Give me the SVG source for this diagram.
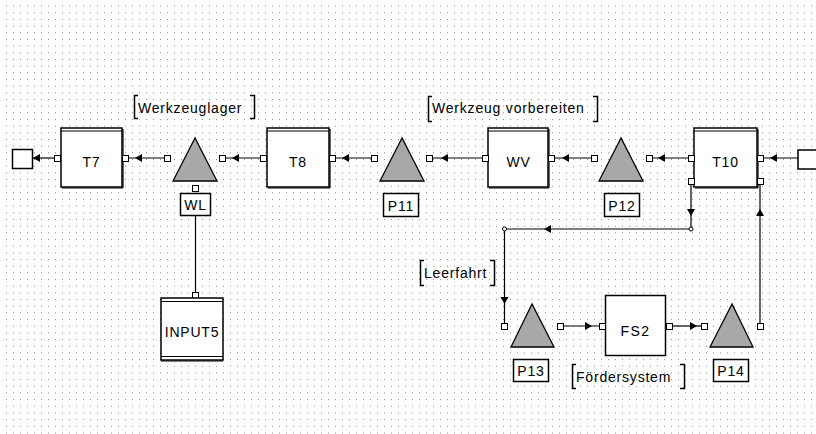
<svg xmlns="http://www.w3.org/2000/svg" xmlns:xlink="http://www.w3.org/1999/xlink" width="816" height="434" viewBox="0 0 816 434">
<style>
.box{fill:#fff;stroke:#000;stroke-width:1.5}
.band{stroke:#000;stroke-width:1.2}
.port{fill:#fff;stroke:#000;stroke-width:1}
.tri{fill:#a8a8a8;stroke:#000;stroke-width:1.3;stroke-linejoin:miter}
.lbl{fill:#fff;stroke:#000;stroke-width:1.5}
.line{fill:none;stroke:#000;stroke-width:1.2}
.br{fill:none;stroke:#000;stroke-width:1.5}
.t{font-family:"Liberation Sans",Arial,sans-serif;font-size:14px;fill:#000;letter-spacing:0.8px}
.c{text-anchor:middle}
.bend{fill:#fff;stroke:#000;stroke-width:1}
</style>
<defs>
<pattern id="grid" patternUnits="userSpaceOnUse" x="6" y="5.6" width="7" height="6.67">
<rect x="0" y="0" width="1" height="1" fill="#8c8c8c"/>
</pattern>
<path id="ah" d="M0,0 L-7,-4 L-7,4 Z" fill="#000"/>
</defs>
<rect x="0" y="0" width="816" height="434" fill="#fff"/>
<rect x="0" y="0" width="816" height="434" fill="url(#grid)"/>

<g id="connectors">
<line class="line" x1="54" y1="158" x2="32" y2="158"/>
<use xlink:href="#ah" transform="translate(33,158) rotate(180)"/>
<line class="line" x1="164" y1="158" x2="128" y2="158"/>
<use xlink:href="#ah" transform="translate(135,158) rotate(180)"/>
<line class="line" x1="260" y1="158" x2="225" y2="158"/>
<use xlink:href="#ah" transform="translate(232,158) rotate(180)"/>
<line class="line" x1="371" y1="158" x2="335" y2="158"/>
<use xlink:href="#ah" transform="translate(342,158) rotate(180)"/>
<line class="line" x1="482" y1="158" x2="432" y2="158"/>
<use xlink:href="#ah" transform="translate(441,158) rotate(180)"/>
<line class="line" x1="591" y1="158" x2="554" y2="158"/>
<use xlink:href="#ah" transform="translate(562,158) rotate(180)"/>
<line class="line" x1="688" y1="158" x2="652" y2="158"/>
<use xlink:href="#ah" transform="translate(658,158) rotate(180)"/>
<line class="line" x1="798" y1="158" x2="763" y2="158"/>
<use xlink:href="#ah" transform="translate(770,158) rotate(180)"/>
<polyline class="line" points="691,184 691,229 504.5,229 504.5,323"/>
<use xlink:href="#ah" transform="translate(691,216) rotate(90)"/>
<use xlink:href="#ah" transform="translate(544,229) rotate(180)"/>
<use xlink:href="#ah" transform="translate(504.5,304) rotate(90)"/>
<circle class="bend" cx="691" cy="229" r="2"/>
<circle class="bend" cx="504.5" cy="229" r="2"/>
<line class="line" x1="563" y1="326" x2="599" y2="326"/>
<use xlink:href="#ah" transform="translate(592,326)"/>
<line class="line" x1="672" y1="326" x2="701" y2="326"/>
<use xlink:href="#ah" transform="translate(697,326)"/>
<line class="line" x1="760" y1="323" x2="760" y2="184"/>
<use xlink:href="#ah" transform="translate(760,209) rotate(-90)"/>
<line class="line" x1="195.5" y1="216" x2="195.5" y2="292"/>
</g>

<g id="src_left">
<rect class="box" x="12.5" y="149.5" width="20" height="19"/>
</g>

<g id="T7">
<rect class="box" x="61" y="128" width="61" height="59"/>
<line class="band" x1="61" y1="131" x2="122" y2="131"/>
<line class="band" x1="62" y1="188" x2="123" y2="188"/>
<line class="band" x1="123" y1="129" x2="123" y2="188"/>
<rect class="port" x="54.5" y="155.5" width="6" height="6"/>
<rect class="port" x="122.5" y="155.5" width="6" height="6"/>
<text class="t c" x="91.5" y="167">T7</text>
</g>

<g id="WL">
<polygon class="tri" points="195,138 173,181 217,181"/>
<rect class="port" x="164.5" y="155.5" width="6" height="6"/>
<rect class="port" x="219.5" y="155.5" width="6" height="6"/>
<rect class="port" x="192.5" y="185.5" width="6" height="6"/>
<rect class="lbl" x="180.5" y="193.5" width="30" height="22"/>
<text class="t c" x="195.5" y="210">WL</text>
</g>

<g id="INPUT5">
<rect class="port" x="192.5" y="292.5" width="6" height="6"/>
<rect class="box" x="161" y="298" width="62" height="62"/>
<line class="band" x1="161" y1="301.5" x2="223" y2="301.5"/>
<line class="band" x1="161" y1="356.5" x2="223" y2="356.5"/>
<line class="band" x1="161" y1="361" x2="223" y2="361"/>
<text class="t c" x="192" y="337">INPUT5</text>
</g>

<g id="T8">
<rect class="box" x="267" y="128" width="62" height="59"/>
<line class="band" x1="267" y1="131" x2="329" y2="131"/>
<line class="band" x1="268" y1="188" x2="330" y2="188"/>
<line class="band" x1="330" y1="129" x2="330" y2="188"/>
<rect class="port" x="260.5" y="155.5" width="6" height="6"/>
<rect class="port" x="329.5" y="155.5" width="6" height="6"/>
<text class="t c" x="298" y="167">T8</text>
</g>

<g id="P11">
<polygon class="tri" points="402,138 380,181 424,181"/>
<rect class="port" x="371.5" y="155.5" width="6" height="6"/>
<rect class="port" x="426.5" y="155.5" width="6" height="6"/>
<rect class="lbl" x="383.5" y="193.5" width="35" height="23"/>
<text class="t c" x="401" y="211">P11</text>
</g>

<g id="WV">
<rect class="box" x="488" y="128" width="60" height="59"/>
<line class="band" x1="488" y1="131" x2="548" y2="131"/>
<line class="band" x1="489" y1="188" x2="549" y2="188"/>
<line class="band" x1="549" y1="129" x2="549" y2="188"/>
<rect class="port" x="482.5" y="155.5" width="6" height="6"/>
<rect class="port" x="548.5" y="155.5" width="6" height="6"/>
<text class="t c" x="518.5" y="167">WV</text>
</g>

<g id="P12">
<polygon class="tri" points="621,138 599,181 643,181"/>
<rect class="port" x="591.5" y="155.5" width="6" height="6"/>
<rect class="port" x="646.5" y="155.5" width="6" height="6"/>
<rect class="lbl" x="604.5" y="193.5" width="35" height="23"/>
<text class="t c" x="622" y="211">P12</text>
</g>

<g id="T10">
<rect class="box" x="694" y="128" width="63" height="59"/>
<line class="band" x1="694" y1="131" x2="757" y2="131"/>
<line class="band" x1="695" y1="188" x2="758" y2="188"/>
<line class="band" x1="758" y1="129" x2="758" y2="188"/>
<rect class="port" x="688.5" y="155.5" width="6" height="6"/>
<rect class="port" x="757.5" y="155.5" width="6" height="6"/>
<rect class="port" x="688.5" y="178.5" width="6" height="6"/>
<rect class="port" x="757.5" y="178.5" width="6" height="6"/>
<text class="t c" x="725.5" y="167">T10</text>
</g>

<g id="src_right">
<rect class="box" x="798" y="150" width="21" height="19"/>
</g>

<g id="P13">
<polygon class="tri" points="532,304 511,347 554,347"/>
<rect class="port" x="501.5" y="323.5" width="6" height="6"/>
<rect class="port" x="557.5" y="323.5" width="6" height="6"/>
<rect class="lbl" x="513.5" y="359.5" width="35" height="22"/>
<text class="t c" x="531" y="376">P13</text>
</g>

<g id="FS2">
<rect class="box" x="605.5" y="295.5" width="60" height="60"/>
<rect class="port" x="599.5" y="323.5" width="6" height="6"/>
<rect class="port" x="666.5" y="323.5" width="6" height="6"/>
<text class="t c" x="635.5" y="336" style="letter-spacing:1.5px">FS2</text>
</g>

<g id="P14">
<polygon class="tri" points="732,304 710,347 753,347"/>
<rect class="port" x="701.5" y="323.5" width="6" height="6"/>
<rect class="port" x="757.5" y="323.5" width="6" height="6"/>
<rect class="lbl" x="713.5" y="359.5" width="35" height="22"/>
<text class="t c" x="731" y="376">P14</text>
</g>

<g id="lbl_werkzeuglager">
<path class="br" d="M138,95.5 H134.5 V118.5 H138"/>
<path class="br" d="M250,95.5 H254.5 V118.5 H250"/>
<text class="t" x="138" y="113">Werkzeuglager</text>
</g>

<g id="lbl_vorbereiten">
<path class="br" d="M432,96.5 H428.5 V121.5 H432"/>
<path class="br" d="M593,96.5 H597.5 V121.5 H593"/>
<text class="t" x="432" y="113">Werkzeug vorbereiten</text>
</g>

<g id="lbl_leerfahrt">
<path class="br" d="M424,260.5 H420.5 V285.5 H424"/>
<path class="br" d="M490,260.5 H494.5 V285.5 H490"/>
<text class="t" x="424" y="278">Leerfahrt</text>
</g>

<g id="lbl_foerdersystem">
<path class="br" d="M576,364.5 H572.5 V388.5 H576"/>
<path class="br" d="M680,364.5 H684.5 V388.5 H680"/>
<text class="t" x="576" y="382">Fördersystem</text>
</g>
</svg>
